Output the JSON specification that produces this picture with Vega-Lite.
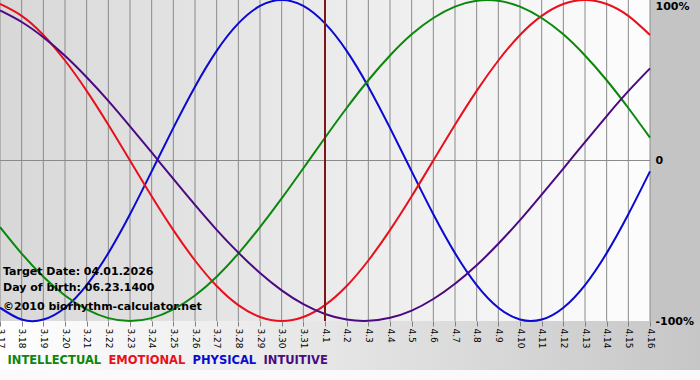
{
  "$schema": "https://vega.github.io/schema/vega-lite/v6.json",
  "width": 650,
  "height": 321,
  "autosize": {"type": "none"},
  "padding": {"left": 0, "top": 0, "right": 50, "bottom": 59},
  "background": "#c4c4c4",
  "config": {
    "font": "DejaVu Sans",
    "view": {
      "stroke": null,
      "fill": {"gradient": "linear", "x1": 0, "y1": 0, "x2": 1, "y2": 0,
        "stops": [{"offset": 0, "color": "#d8d8d8"}, {"offset": 1, "color": "#fdfdfd"}]}
    },
    "axisX": {
      "tickCount": 40,
      "labelExpr": "['3.17','3.18','3.19','3.20','3.21','3.22','3.23','3.24','3.25','3.26','3.27','3.28','3.29','3.30','3.31','4.1','4.2','4.3','4.4','4.5','4.6','4.7','4.8','4.9','4.10','4.11','4.12','4.13','4.14','4.15','4.16'][datum.value]",
      "labelAngle": 90, "labelFontSize": 9, "labelFont": "DejaVu Sans", "labelColor": "#000000",
      "tickColor": "#808080", "tickSize": 5, "labelPadding": 2, "domain": false, "grid": false,
      "zindex": 1, "labelOverlap": false, "labelBound": false, "labelFlush": false
    }
  },
  "data": {"values": [{"k": 1}]},
  "datasets": {
    "days": [
      {"day": 0}, {"day": 1}, {"day": 2}, {"day": 3}, {"day": 4}, {"day": 5}, {"day": 6}, {"day": 7}, {"day": 8}, {"day": 9},
      {"day": 10}, {"day": 11}, {"day": 12}, {"day": 13}, {"day": 14}, {"day": 15}, {"day": 16}, {"day": 17}, {"day": 18}, {"day": 19},
      {"day": 20}, {"day": 21}, {"day": 22}, {"day": 23}, {"day": 24}, {"day": 25}, {"day": 26}, {"day": 27}, {"day": 28}, {"day": 29}, {"day": 30}
    ],
    "bio": [
      {"day": 0, "series": "PHYSICAL", "value": -0.917}, {"day": 1, "series": "PHYSICAL", "value": -0.991}, {"day": 2, "series": "PHYSICAL", "value": -0.991}, {"day": 3, "series": "PHYSICAL", "value": -0.917}, {"day": 4, "series": "PHYSICAL", "value": -0.776}, {"day": 5, "series": "PHYSICAL", "value": -0.577}, {"day": 6, "series": "PHYSICAL", "value": -0.335}, {"day": 7, "series": "PHYSICAL", "value": -0.068}, {"day": 8, "series": "PHYSICAL", "value": 0.203}, {"day": 9, "series": "PHYSICAL", "value": 0.46}, {"day": 10, "series": "PHYSICAL", "value": 0.683}, {"day": 11, "series": "PHYSICAL", "value": 0.854}, {"day": 12, "series": "PHYSICAL", "value": 0.963}, {"day": 13, "series": "PHYSICAL", "value": 1}, {"day": 14, "series": "PHYSICAL", "value": 0.963}, {"day": 15, "series": "PHYSICAL", "value": 0.854}, {"day": 16, "series": "PHYSICAL", "value": 0.683}, {"day": 17, "series": "PHYSICAL", "value": 0.46}, {"day": 18, "series": "PHYSICAL", "value": 0.203}, {"day": 19, "series": "PHYSICAL", "value": -0.068}, {"day": 20, "series": "PHYSICAL", "value": -0.335}, {"day": 21, "series": "PHYSICAL", "value": -0.577}, {"day": 22, "series": "PHYSICAL", "value": -0.776}, {"day": 23, "series": "PHYSICAL", "value": -0.917}, {"day": 24, "series": "PHYSICAL", "value": -0.991}, {"day": 25, "series": "PHYSICAL", "value": -0.991}, {"day": 26, "series": "PHYSICAL", "value": -0.917}, {"day": 27, "series": "PHYSICAL", "value": -0.776}, {"day": 28, "series": "PHYSICAL", "value": -0.577}, {"day": 29, "series": "PHYSICAL", "value": -0.335}, {"day": 30, "series": "PHYSICAL", "value": -0.068},
      {"day": 0, "series": "EMOTIONAL", "value": 0.975}, {"day": 1, "series": "EMOTIONAL", "value": 0.901}, {"day": 2, "series": "EMOTIONAL", "value": 0.782}, {"day": 3, "series": "EMOTIONAL", "value": 0.623}, {"day": 4, "series": "EMOTIONAL", "value": 0.434}, {"day": 5, "series": "EMOTIONAL", "value": 0.223}, {"day": 6, "series": "EMOTIONAL", "value": 0}, {"day": 7, "series": "EMOTIONAL", "value": -0.223}, {"day": 8, "series": "EMOTIONAL", "value": -0.434}, {"day": 9, "series": "EMOTIONAL", "value": -0.623}, {"day": 10, "series": "EMOTIONAL", "value": -0.782}, {"day": 11, "series": "EMOTIONAL", "value": -0.901}, {"day": 12, "series": "EMOTIONAL", "value": -0.975}, {"day": 13, "series": "EMOTIONAL", "value": -1}, {"day": 14, "series": "EMOTIONAL", "value": -0.975}, {"day": 15, "series": "EMOTIONAL", "value": -0.901}, {"day": 16, "series": "EMOTIONAL", "value": -0.782}, {"day": 17, "series": "EMOTIONAL", "value": -0.623}, {"day": 18, "series": "EMOTIONAL", "value": -0.434}, {"day": 19, "series": "EMOTIONAL", "value": -0.223}, {"day": 20, "series": "EMOTIONAL", "value": 0}, {"day": 21, "series": "EMOTIONAL", "value": 0.223}, {"day": 22, "series": "EMOTIONAL", "value": 0.434}, {"day": 23, "series": "EMOTIONAL", "value": 0.623}, {"day": 24, "series": "EMOTIONAL", "value": 0.782}, {"day": 25, "series": "EMOTIONAL", "value": 0.901}, {"day": 26, "series": "EMOTIONAL", "value": 0.975}, {"day": 27, "series": "EMOTIONAL", "value": 1}, {"day": 28, "series": "EMOTIONAL", "value": 0.975}, {"day": 29, "series": "EMOTIONAL", "value": 0.901}, {"day": 30, "series": "EMOTIONAL", "value": 0.782},
      {"day": 0, "series": "INTELLECTUAL", "value": -0.415}, {"day": 1, "series": "INTELLECTUAL", "value": -0.58}, {"day": 2, "series": "INTELLECTUAL", "value": -0.724}, {"day": 3, "series": "INTELLECTUAL", "value": -0.841}, {"day": 4, "series": "INTELLECTUAL", "value": -0.928}, {"day": 5, "series": "INTELLECTUAL", "value": -0.982}, {"day": 6, "series": "INTELLECTUAL", "value": -1}, {"day": 7, "series": "INTELLECTUAL", "value": -0.982}, {"day": 8, "series": "INTELLECTUAL", "value": -0.928}, {"day": 9, "series": "INTELLECTUAL", "value": -0.841}, {"day": 10, "series": "INTELLECTUAL", "value": -0.724}, {"day": 11, "series": "INTELLECTUAL", "value": -0.58}, {"day": 12, "series": "INTELLECTUAL", "value": -0.415}, {"day": 13, "series": "INTELLECTUAL", "value": -0.236}, {"day": 14, "series": "INTELLECTUAL", "value": -0.048}, {"day": 15, "series": "INTELLECTUAL", "value": 0.142}, {"day": 16, "series": "INTELLECTUAL", "value": 0.327}, {"day": 17, "series": "INTELLECTUAL", "value": 0.5}, {"day": 18, "series": "INTELLECTUAL", "value": 0.654}, {"day": 19, "series": "INTELLECTUAL", "value": 0.786}, {"day": 20, "series": "INTELLECTUAL", "value": 0.888}, {"day": 21, "series": "INTELLECTUAL", "value": 0.959}, {"day": 22, "series": "INTELLECTUAL", "value": 0.995}, {"day": 23, "series": "INTELLECTUAL", "value": 0.995}, {"day": 24, "series": "INTELLECTUAL", "value": 0.959}, {"day": 25, "series": "INTELLECTUAL", "value": 0.888}, {"day": 26, "series": "INTELLECTUAL", "value": 0.786}, {"day": 27, "series": "INTELLECTUAL", "value": 0.654}, {"day": 28, "series": "INTELLECTUAL", "value": 0.5}, {"day": 29, "series": "INTELLECTUAL", "value": 0.327}, {"day": 30, "series": "INTELLECTUAL", "value": 0.142},
      {"day": 0, "series": "INTUITIVE", "value": 0.935}, {"day": 1, "series": "INTUITIVE", "value": 0.863}, {"day": 2, "series": "INTUITIVE", "value": 0.768}, {"day": 3, "series": "INTUITIVE", "value": 0.653}, {"day": 4, "series": "INTUITIVE", "value": 0.519}, {"day": 5, "series": "INTUITIVE", "value": 0.372}, {"day": 6, "series": "INTUITIVE", "value": 0.213}, {"day": 7, "series": "INTUITIVE", "value": 0.05}, {"day": 8, "series": "INTUITIVE", "value": -0.115}, {"day": 9, "series": "INTUITIVE", "value": -0.277}, {"day": 10, "series": "INTUITIVE", "value": -0.432}, {"day": 11, "series": "INTUITIVE", "value": -0.574}, {"day": 12, "series": "INTUITIVE", "value": -0.701}, {"day": 13, "series": "INTUITIVE", "value": -0.809}, {"day": 14, "series": "INTUITIVE", "value": -0.895}, {"day": 15, "series": "INTUITIVE", "value": -0.956}, {"day": 16, "series": "INTUITIVE", "value": -0.991}, {"day": 17, "series": "INTUITIVE", "value": -0.999}, {"day": 18, "series": "INTUITIVE", "value": -0.98}, {"day": 19, "series": "INTUITIVE", "value": -0.935}, {"day": 20, "series": "INTUITIVE", "value": -0.863}, {"day": 21, "series": "INTUITIVE", "value": -0.768}, {"day": 22, "series": "INTUITIVE", "value": -0.653}, {"day": 23, "series": "INTUITIVE", "value": -0.519}, {"day": 24, "series": "INTUITIVE", "value": -0.372}, {"day": 25, "series": "INTUITIVE", "value": -0.213}, {"day": 26, "series": "INTUITIVE", "value": -0.05}, {"day": 27, "series": "INTUITIVE", "value": 0.115}, {"day": 28, "series": "INTUITIVE", "value": 0.277}, {"day": 29, "series": "INTUITIVE", "value": 0.432}, {"day": 30, "series": "INTUITIVE", "value": 0.574}
    ]
  },
  "layer": [
    {
      "data": {"name": "days"},
      "mark": {"type": "rule", "color": "#8a8a8a", "strokeWidth": 1},
      "encoding": {
        "x": {"field": "day", "type": "quantitative", "scale": {"domain": [0, 30], "nice": false, "zero": false},
          "axis": {"values": [0,1,2,3,4,5,6,7,8,9,10,11,12,13,14,15,16,17,18,19,20,21,22,23,24,25,26,27,28,29,30],
            "tickCount": 40,
            "labelExpr": "['3.17','3.18','3.19','3.20','3.21','3.22','3.23','3.24','3.25','3.26','3.27','3.28','3.29','3.30','3.31','4.1','4.2','4.3','4.4','4.5','4.6','4.7','4.8','4.9','4.10','4.11','4.12','4.13','4.14','4.15','4.16'][datum.value]",
            "labelAngle": 90, "labelFontSize": 9, "labelFont": "DejaVu Sans", "labelColor": "#000000",
            "tickColor": "#808080", "tickSize": 5, "labelPadding": 2, "domain": false, "grid": false,
            "title": null, "zindex": 1, "labelOverlap": false, "labelBound": false, "labelFlush": false}}
      }
    },
    {
      "mark": {"type": "rule", "color": "#8a8a8a", "strokeWidth": 1},
      "encoding": {
        "y": {"datum": 0, "type": "quantitative", "scale": {"domain": [-1, 1], "nice": false, "zero": false},
          "axis": {"orient": "right", "values": [-1, 0, 1],
            "labelExpr": "datum.value == 1 ? '100%' : datum.value == 0 ? '0' : '-100%'",
            "labelFontWeight": "bold", "labelFontSize": 11, "labelFont": "DejaVu Sans", "labelColor": "#000000",
            "ticks": false, "domain": false, "grid": false, "title": null, "labelPadding": 5, "zindex": 1, "labelFlush": false,
            "labelBaseline": {"condition": {"test": "datum.value == 1", "value": "top"}, "value": "middle"}}}
      }
    },
    {
      "mark": {"type": "rect", "color": {"gradient": "linear", "x1": 0, "y1": 0, "x2": 1, "y2": 0,
        "stops": [{"offset": 0, "color": "#ffffff"}, {"offset": 0.5, "color": "#e4e4e4"}, {"offset": 1, "color": "#c6c6c6"}]}},
      "encoding": {
        "x": {"datum": 0, "type": "quantitative"},
        "x2": {"datum": 32.31},
        "y": {"datum": -1, "type": "quantitative"},
        "y2": {"datum": -1.3053}
      }
    },
    {
      "mark": {"type": "rect", "color": "#fafafa"},
      "encoding": {
        "x": {"datum": 0, "type": "quantitative"},
        "x2": {"datum": 32.31},
        "y": {"datum": -1.3053, "type": "quantitative"},
        "y2": {"datum": -1.37}
      }
    },
    {
      "data": {"name": "bio"},
      "mark": {"type": "line", "strokeWidth": 2, "interpolate": "natural"},
      "encoding": {
        "x": {"field": "day", "type": "quantitative",
          "axis": {"values": [0,1,2,3,4,5,6,7,8,9,10,11,12,13,14,15,16,17,18,19,20,21,22,23,24,25,26,27,28,29,30],
            "tickCount": 40,
            "labelExpr": "['3.17','3.18','3.19','3.20','3.21','3.22','3.23','3.24','3.25','3.26','3.27','3.28','3.29','3.30','3.31','4.1','4.2','4.3','4.4','4.5','4.6','4.7','4.8','4.9','4.10','4.11','4.12','4.13','4.14','4.15','4.16'][datum.value]",
            "labelAngle": 90, "labelFontSize": 9, "labelFont": "DejaVu Sans", "labelColor": "#000000",
            "tickColor": "#808080", "tickSize": 5, "labelPadding": 2, "domain": false, "grid": false,
            "title": null, "zindex": 1, "labelOverlap": false, "labelBound": false, "labelFlush": false}},
        "y": {"field": "value", "type": "quantitative", "axis": {"title": null}},
        "color": {"field": "series", "type": "nominal",
          "scale": {"domain": ["INTELLECTUAL", "EMOTIONAL", "PHYSICAL", "INTUITIVE"], "range": ["#0b870b", "#e8101c", "#0a0ad0", "#4b0a82"]},
          "legend": {"title": null, "orient": "none", "legendX": 8, "legendY": 355, "direction": "horizontal",
            "symbolType": "circle", "symbolSize": 0, "symbolOpacity": 0, "symbolStrokeWidth": 0, "labelOffset": -12, "columnPadding": 6, "padding": 0,
            "labelFont": "DejaVu Sans", "labelFontWeight": "bold", "labelFontSize": 11.5, "zindex": 1,
            "encode": {"labels": {"update": {"fill": {"scale": "color", "field": "value"}}}}}}
      }
    },
    {
      "mark": {"type": "rule", "color": "#7d1616", "strokeWidth": 2},
      "encoding": {
        "x": {"datum": 15, "type": "quantitative"}
      }
    },
    {
      "mark": {"type": "text", "align": "left", "baseline": "alphabetic", "dx": 3, "font": "DejaVu Sans", "fontWeight": "bold", "fontSize": 11, "color": "#000000"},
      "encoding": {
        "x": {"datum": 0, "type": "quantitative"},
        "y": {"datum": -0.7134, "type": "quantitative"},
        "text": {"value": "Target Date: 04.01.2026"}
      }
    },
    {
      "mark": {"type": "text", "align": "left", "baseline": "alphabetic", "dx": 3, "font": "DejaVu Sans", "fontWeight": "bold", "fontSize": 11, "color": "#000000"},
      "encoding": {
        "x": {"datum": 0, "type": "quantitative"},
        "y": {"datum": -0.8131, "type": "quantitative"},
        "text": {"value": "Day of birth: 06.23.1400"}
      }
    },
    {
      "mark": {"type": "text", "align": "left", "baseline": "alphabetic", "dx": 3, "font": "DejaVu Sans", "fontWeight": "bold", "fontSize": 11, "color": "#000000"},
      "encoding": {
        "x": {"datum": 0, "type": "quantitative"},
        "y": {"datum": -0.9315, "type": "quantitative"},
        "text": {"value": "©2010 biorhythm-calculator.net"}
      }
    }
  ]
}
